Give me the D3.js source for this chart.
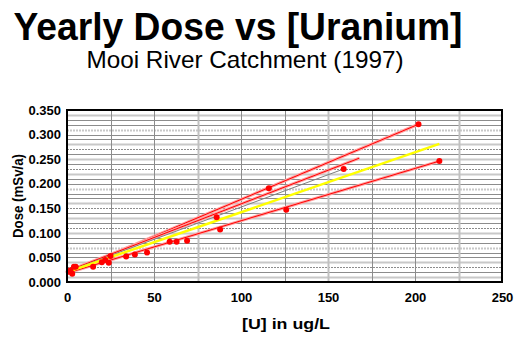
<!DOCTYPE html>
<html><head><meta charset="utf-8">
<script src="https://cdn.jsdelivr.net/npm/d3@7"></script>
<style>
html,body{margin:0;padding:0;background:#fff;}
svg{display:block;font-family:"Liberation Sans",Arial,sans-serif;}
</style></head>
<body>
<svg id="chart" width="518" height="339"></svg>
<script>
// ---- data ----
const titleText = "Yearly Dose vs [Uranium]";
const subtitleText = "Mooi River Catchment (1997)";
const xTitle = "[U] in ug/L";
const yTitle = "Dose (mSv/a)";
const xTicks = [0, 50, 100, 150, 200, 250];
const yTicks = [0, 0.05, 0.10, 0.15, 0.20, 0.25, 0.30, 0.35];
const uranium = [1, 2, 3, 4, 5, 15, 20, 22, 24, 25, 34, 39, 46, 59, 63, 69, 86, 88, 116, 126, 159, 202, 214];
const dose = [0.021, 0.024, 0.017, 0.031, 0.031, 0.031, 0.040, 0.045, 0.039, 0.053, 0.052, 0.056, 0.060, 0.082, 0.082, 0.084, 0.132, 0.107, 0.191, 0.147, 0.230, 0.321, 0.246];
// fitted lines: start and end (uranium, dose)
const lineKinds = ["site", "site", "trend", "overall", "site"];
const lineStartU = [0, 0, 0, 0, 0];
const lineStartD = [0.018, 0.022, 0.021, 0.020, 0.018];
const lineEndU = [202, 168, 159, 214, 214];
const lineEndD = [0.321, 0.252, 0.230, 0.281, 0.246];

// ---- layout ----
const W = 518, H = 339;
const m = {left: 67, right: 16, top: 110, bottom: 57};
const svg = d3.select("#chart");
const x = d3.scaleLinear().domain([0, 250]).range([m.left, W - m.right]);
const y = d3.scaleLinear().domain([0, 0.35]).range([H - m.bottom, m.top]);

// titles
svg.append("text").attr("x", 238).attr("y", 40).attr("text-anchor", "middle")
  .style("font-weight", "bold").style("font-size", "38px")
  .attr("textLength", 449).attr("lengthAdjust", "spacingAndGlyphs").text(titleText);
svg.append("text").attr("x", 245).attr("y", 68).attr("text-anchor", "middle")
  .style("font-size", "24px")
  .attr("textLength", 317).attr("lengthAdjust", "spacingAndGlyphs").text(subtitleText);

// grid
const g = svg.append("g");
const minorY = d3.range(1, 35).map(i => i / 100);
g.selectAll("line.hy").data(minorY).join("line")
  .attr("x1", x(0)).attr("x2", x(250))
  .attr("y1", d => Math.round(y(d)) + 0.5).attr("y2", d => Math.round(y(d)) + 0.5)
  .attr("stroke", (d, i) => (i % 3 === 0 ? "#c8c8c8" : "#8c8c8c"))
  .attr("stroke-width", (d, i) => (i % 3 === 0 ? 2 : 1))
  .attr("stroke-dasharray", (d, i) => (i % 4 === 2 ? "2,1" : null));
const vx = d3.range(25, 250, 25);
g.selectAll("line.vx").data(vx).join("line")
  .attr("y1", y(0)).attr("y2", y(0.35))
  .attr("x1", d => Math.round(x(d)) + 0.5).attr("x2", d => Math.round(x(d)) + 0.5)
  .attr("stroke", (d, i) => (i % 3 === 2 ? "#c0c0c0" : "#8c8c8c"))
  .attr("stroke-width", (d, i) => (i % 3 === 2 ? 2 : 1));

// fitted lines
const lines = lineKinds.map((k, i) => ({k, u0: lineStartU[i], d0: lineStartD[i], u1: lineEndU[i], d1: lineEndD[i]}));
const lg = svg.append("g");
lines.forEach(l => {
  if (l.k === "site") {
    lg.append("line").attr("x1", x(l.u0)).attr("y1", y(l.d0)).attr("x2", x(l.u1)).attr("y2", y(l.d1))
      .attr("stroke", "#ffa0a0").attr("stroke-width", 3);
    lg.append("line").attr("x1", x(l.u0)).attr("y1", y(l.d0)).attr("x2", x(l.u1)).attr("y2", y(l.d1))
      .attr("stroke", "#ff0000").attr("stroke-width", 1);
  } else if (l.k === "trend") {
    lg.append("line").attr("x1", x(l.u0)).attr("y1", y(l.d0)).attr("x2", x(l.u1)).attr("y2", y(l.d1))
      .attr("stroke", "#808080").attr("stroke-width", 1);
  }
});
lines.filter(l => l.k === "overall").forEach(l => {
  lg.append("line").attr("x1", x(l.u0)).attr("y1", y(l.d0)).attr("x2", x(l.u1)).attr("y2", y(l.d1))
    .attr("stroke", "#ffff00").attr("stroke-width", 2.5);
});

// points
svg.append("g").selectAll("circle").data(uranium.map((u, i) => [u, dose[i]])).join("circle")
  .attr("cx", d => x(d[0])).attr("cy", d => y(d[1])).attr("r", 3).attr("fill", "#ff0000");

// frame
svg.append("rect").attr("x", x(0)).attr("y", y(0.35)).attr("width", x(250) - x(0)).attr("height", y(0) - y(0.35))
  .attr("fill", "none").attr("stroke", "#000").attr("stroke-width", 2);

// axes
const xAxis = svg.append("g").attr("transform", `translate(0,${y(0)})`)
  .call(d3.axisBottom(x).tickValues(xTicks).tickSize(0).tickPadding(11).tickFormat(d3.format("d")));
const yAxis = svg.append("g").attr("transform", `translate(${x(0)},0)`)
  .call(d3.axisLeft(y).tickValues(yTicks).tickSize(0).tickPadding(6).tickFormat(d3.format(".3f")));
[xAxis, yAxis].forEach(a => {
  a.select(".domain").remove();
  a.selectAll("text").style("font-family", "'Liberation Sans',Arial,sans-serif")
    .style("font-weight", "bold").attr("fill", "#000");
});
xAxis.selectAll("text").style("font-size", "13px");
yAxis.selectAll("text").style("font-size", "13px");

svg.append("text").attr("x", 286).attr("y", 329).attr("text-anchor", "middle")
  .style("font-weight", "bold").style("font-size", "14px")
  .attr("textLength", 88).attr("lengthAdjust", "spacingAndGlyphs").text(xTitle);
svg.append("text").attr("transform", "translate(18,196) rotate(-90)").attr("text-anchor", "middle")
  .attr("dy", "0.35em")
  .style("font-weight", "bold").style("font-size", "15px")
  .attr("textLength", 84).attr("lengthAdjust", "spacingAndGlyphs").text(yTitle);
</script>
</body></html>
